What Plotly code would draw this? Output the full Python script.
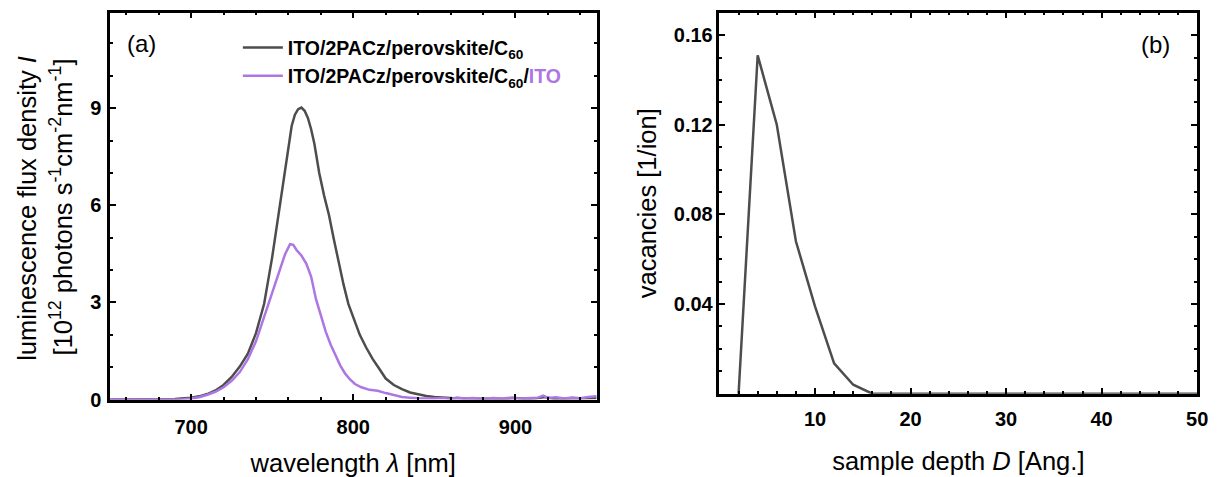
import plotly.graph_objects as go

# ---- (a) luminescence spectra -------------------------------------------
gray_wl = [650, 670, 690, 700, 705, 710, 715, 720, 725, 730, 735, 740, 745,
           750, 755, 757, 760, 762, 764, 766, 768, 770, 772, 774, 776, 779,
           782, 785, 788, 791, 794, 797, 800, 804, 808, 812, 816, 820, 825,
           830, 835, 840, 845, 850, 856, 862, 870, 878, 886, 894, 900, 906,
           912, 918, 924, 930, 936, 942, 950]
gray_I = [0.0, 0.0, 0.02, 0.06, 0.1, 0.17, 0.28, 0.45, 0.7, 1.02, 1.42, 2.05,
          2.95, 4.4, 6.1, 6.9, 7.9, 8.45, 8.8, 8.97, 9.02, 8.92, 8.7, 8.35,
          7.9, 7.0, 6.3, 5.7, 4.95, 4.2, 3.55, 2.95, 2.55, 2.0, 1.6, 1.25,
          0.95, 0.65, 0.45, 0.32, 0.22, 0.16, 0.11, 0.08, 0.05, 0.04, 0.03,
          0.02, 0.03, 0.02, 0.05, 0.02, 0.03, 0.08, 0.02, 0.03, 0.02, 0.04,
          0.05]

purple_wl = [650, 680, 695, 700, 705, 710, 715, 720, 725, 730, 735, 740, 745,
             750, 755, 758, 761, 763, 765, 768, 771, 774, 777, 780, 783, 786,
             789, 792, 795, 798, 801, 805, 810, 815, 820, 825, 830, 835, 840,
             850, 855, 860, 864, 868, 874, 880, 886, 892, 898, 902, 908, 914,
             917, 920, 925, 930, 935, 940, 945, 950]
purple_I = [0.0, 0.0, 0.01, 0.03, 0.07, 0.15, 0.24, 0.38, 0.58, 0.85, 1.25,
            1.8, 2.55, 3.35, 4.05, 4.5, 4.8, 4.78, 4.62, 4.45, 4.2, 3.8, 3.1,
            2.6, 2.1, 1.7, 1.35, 1.05, 0.8, 0.62, 0.48, 0.38, 0.3, 0.27, 0.2,
            0.13, 0.08, 0.06, 0.04, 0.03, 0.05, 0.02, 0.06, 0.03, 0.05, 0.02,
            0.05, 0.03, 0.06, 0.03, 0.05, 0.06, 0.12, 0.05, 0.07, 0.03, 0.06,
            0.04, 0.08, 0.1]

# ---- (b) vacancy depth profile ------------------------------------------
depth = [2, 4, 6, 8, 10, 12, 14, 16, 18, 20, 22, 24, 26, 28, 30, 32, 34, 36,
         38, 40, 42, 44, 46, 48, 50]
vacancies = [0.0, 0.151, 0.12, 0.068, 0.039, 0.0135, 0.004, 0.0, 0.0, 0.0,
             0.0, 0.0, 0.0, 0.0, 0.0, 0.0, 0.0, 0.0, 0.0, 0.0, 0.0, 0.0, 0.0,
             0.0, 0.0]

a_xticks = [700, 800, 900]
a_yticks = [0, 3, 6, 9]
b_xticks = [10, 20, 30, 40, 50]
b_yticks = [0.04, 0.08, 0.12, 0.16]

GRAY = "#4d4d4d"
PURPLE = "#ad76e2"
FONT = "Arial, Liberation Sans, sans-serif"
W, H = 1224, 477


def px_x(p):
    return p / W


def px_y(p):
    return 1 - p / H


fig = go.Figure()
fig.add_trace(go.Scatter(
    x=gray_wl, y=gray_I, mode="lines", xaxis="x", yaxis="y",
    line=dict(color=GRAY, width=2.5),
    name="ITO/2PACz/perovskite/C<sub>60</sub>"))
fig.add_trace(go.Scatter(
    x=purple_wl, y=purple_I, mode="lines", xaxis="x", yaxis="y",
    line=dict(color=PURPLE, width=2.5),
    name="ITO/2PACz/perovskite/C<sub>60</sub>/"
         f"<span style='color:{PURPLE}'>ITO</span>"))
fig.add_trace(go.Scatter(
    x=depth, y=vacancies, mode="lines", xaxis="x2", yaxis="y2",
    line=dict(color=GRAY, width=2.5), showlegend=False))

axis_common = dict(
    showline=True, linewidth=2.5, linecolor="black", mirror="ticks",
    ticks="inside", ticklen=6, tickwidth=2, tickcolor="black",
    showgrid=False, zeroline=False,
    tickfont=dict(family=FONT, size=20, color="black", weight="bold"),
)
TITLE_SIZE = 25.5
title_font = dict(family=FONT, size=TITLE_SIZE, color="black")

fig.update_layout(
    width=W, height=H,
    margin=dict(l=0, r=0, t=0, b=0),
    paper_bgcolor="white", plot_bgcolor="white",
    showlegend=True,
    legend=dict(
        x=px_x(240), y=px_y(29), xanchor="left", yanchor="top",
        bgcolor="rgba(0,0,0,0)", borderwidth=0,
        font=dict(family=FONT, size=19.5, color="black", weight="bold"),
        itemwidth=40, tracegroupgap=0,
    ),
    xaxis=dict(
        axis_common, domain=[px_x(111), px_x(602)], range=[650, 950],
        tickvals=a_xticks, anchor="y", ticklabelstandoff=8,
        minor=dict(tickmode="linear", tick0=0, dtick=20, ticks="inside",
                   ticklen=3, tickwidth=2, tickcolor="black"),
        title=dict(text="wavelength <i>λ</i> [nm]", font=title_font,
                   standoff=17),
    ),
    yaxis=dict(
        axis_common, domain=[px_y(409), px_y(13)], range=[0, 11.95],
        tickvals=a_yticks, anchor="x", ticklabelstandoff=2,
        minor=dict(tickmode="linear", tick0=0, dtick=1, ticks="inside",
                   ticklen=3, tickwidth=2, tickcolor="black"),
    ),
    xaxis2=dict(
        axis_common, domain=[px_x(726), px_x(1208)], range=[0, 50],
        tickvals=b_xticks, anchor="y2", ticklabelstandoff=6,
        minor=dict(tickmode="linear", tick0=0, dtick=2, ticks="inside",
                   ticklen=3, tickwidth=2, tickcolor="black"),
        title=dict(text="sample depth <i>D</i> [Ang.]", font=title_font,
                   standoff=23),
    ),
    yaxis2=dict(
        axis_common, domain=[px_y(403), px_y(13)], range=[0, 0.17],
        tickvals=b_yticks, ticktext=[f"{v:.2f}" for v in b_yticks],
        anchor="x2",
        minor=dict(tickmode="linear", tick0=0, dtick=0.01, ticks="inside",
                   ticklen=3, tickwidth=2, tickcolor="black"),
        title=dict(text="vacancies [1/ion]", font=title_font, standoff=10),
    ),
    annotations=[
        # two-line y-axis title of panel (a)
        dict(text="luminescence flux density <i>I</i>",
             x=px_x(27), y=px_y(213), xref="paper", yref="paper",
             xanchor="center", yanchor="middle", textangle=-90,
             showarrow=False, font=title_font),
        dict(text="[10<sup>12</sup> photons s<sup>-1</sup>cm<sup>-2</sup>"
                  "nm<sup>-1</sup>]",
             x=px_x(62), y=px_y(212), xref="paper", yref="paper",
             xanchor="center", yanchor="middle", textangle=-90,
             showarrow=False, font=title_font),
        # panel labels
        dict(text="(a)", x=px_x(143), y=px_y(45), xref="paper", yref="paper",
             xanchor="center", yanchor="middle", showarrow=False,
             font=dict(family=FONT, size=24, color="black")),
        dict(text="(b)", x=px_x(1166), y=px_y(46), xref="paper",
             yref="paper", xanchor="center", yanchor="middle",
             showarrow=False, font=dict(family=FONT, size=24, color="black")),
    ],
)

fig.write_html("out.html")
